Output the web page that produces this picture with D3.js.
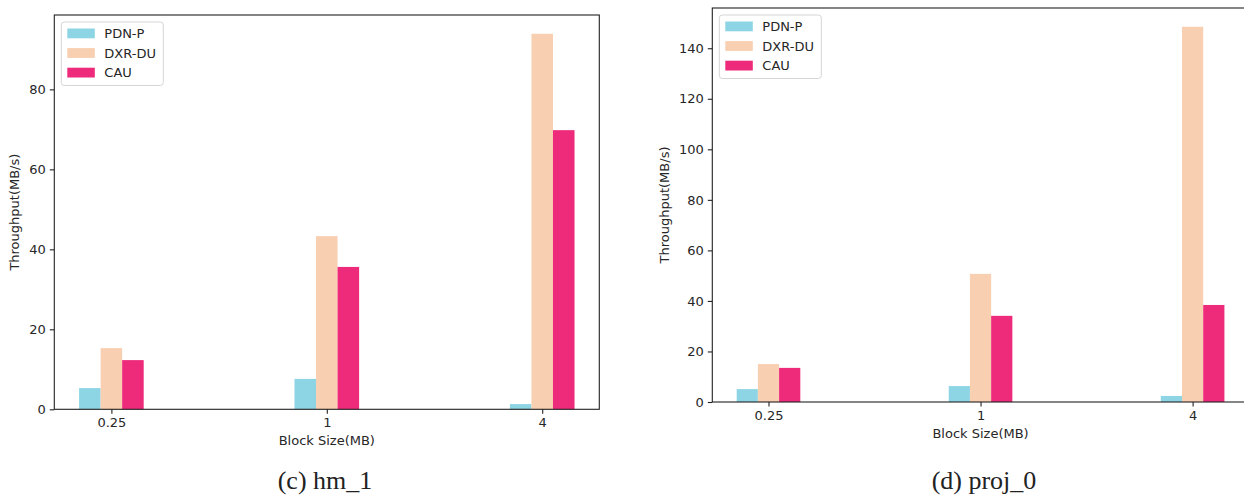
<!DOCTYPE html>
<html>
<head>
<meta charset="utf-8">
<script src="https://cdn.jsdelivr.net/npm/d3@7"></script>
<style>
  body { margin: 0; background: white; }
  svg text { font-family: "DejaVu Sans", sans-serif; fill: #262626; }
  .axis path, .axis line { stroke: #222; stroke-width: 1.1; }
  .caption { font-family: "Liberation Serif", "Times New Roman", serif; font-size: 26px; fill: #222; }
</style>
</head>
<body>
<svg id="chart" width="1244" height="496"></svg>
<script>
// block sizes on the x axis
var categories = ["0.25", "1", "4"];
var seriesNames = ["PDN-P", "DXR-DU", "CAU"];
var seriesColors = ["#8dd5e5", "#f8cfb1", "#ee2a7b"];

// (c) hm_1 throughput, MB/s
var hm1PDN = [5.3, 7.6, 1.3];
var hm1DXR = [15.3, 43.3, 93.9];
var hm1CAU = [12.3, 35.6, 69.8];
var hm1Ticks = [0, 20, 40, 60, 80];

// (d) proj_0 throughput, MB/s
var proj0PDN = [5.1, 6.3, 2.4];
var proj0DXR = [15.0, 50.7, 148.5];
var proj0CAU = [13.5, 34.1, 38.4];
var proj0Ticks = [0, 20, 40, 60, 80, 100, 120, 140];

var svg = d3.select("#chart");

function drawPanel(opts) {
  var series = opts.series;
  var width = opts.right - opts.left,
      height = opts.bottom - opts.top;

  var g = svg.append("g")
      .attr("transform", "translate(" + opts.left + "," + opts.top + ")");

  var barW = 0.1;
  // matplotlib style: data span -0.15..2.15 plus 5% margins
  var span = [-1.5 * barW, categories.length - 1 + 1.5 * barW];
  var pad = (span[1] - span[0]) * 0.05;
  var x = d3.scaleLinear()
      .domain([span[0] - pad, span[1] + pad])
      .range([0, width]);

  var ymax = d3.max(series, function(s) { return d3.max(s); }) * 1.05;
  var y = d3.scaleLinear()
      .domain([0, ymax])
      .range([height, 0]);

  series.forEach(function(vals, si) {
    g.selectAll(".bar" + si)
      .data(vals)
      .enter().append("rect")
        .attr("x", function(d, i) { return x(i + (si - 1) * barW - barW / 2); })
        .attr("width", function(d, i) { return x(barW) - x(0); })
        .attr("y", function(d) { return y(d); })
        .attr("height", function(d) { return height - y(d); })
        .style("fill", seriesColors[si]);
  });

  var xAxis = d3.axisBottom(x)
      .tickValues(d3.range(categories.length))
      .tickFormat(function(d) { return categories[d]; })
      .tickSize(4.5)
      .tickPadding(4);

  var yAxis = d3.axisLeft(y)
      .tickValues(opts.ticks)
      .tickSize(4.5)
      .tickPadding(4);

  g.append("g")
      .attr("class", "axis")
      .attr("transform", "translate(0," + height + ")")
      .call(xAxis)
      .call(function(a) { a.select(".domain").remove(); });

  g.append("g")
      .attr("class", "axis")
      .call(yAxis)
      .call(function(a) { a.select(".domain").remove(); });

  g.selectAll(".axis text").style("font-size", "13px").style("fill", "#262626");

  // spines
  g.append("rect")
      .attr("width", width)
      .attr("height", height)
      .style("fill", "none")
      .style("stroke", "#222")
      .style("stroke-width", 1.1);

  // axis labels
  g.append("text")
      .attr("x", width / 2)
      .attr("y", height + 36)
      .attr("text-anchor", "middle")
      .style("font-size", "13px")
      .text("Block Size(MB)");

  g.append("text")
      .attr("transform", "translate(" + opts.ylabelX + "," + (height / 2) + ") rotate(-90)")
      .attr("text-anchor", "middle")
      .style("font-size", "13px")
      .text("Throughput(MB/s)");

  // legend
  var lg = g.append("g").attr("transform", "translate(7,7)");
  lg.append("rect")
      .attr("width", 102)
      .attr("height", 63.5)
      .attr("rx", 3)
      .style("fill", "white")
      .style("fill-opacity", 0.8)
      .style("stroke", "#d5d5d5");
  seriesNames.forEach(function(name, i) {
    lg.append("rect")
        .attr("x", 6)
        .attr("y", 6.5 + i * 19.6)
        .attr("width", 27.5)
        .attr("height", 9.8)
        .style("fill", seriesColors[i]);
    lg.append("text")
        .attr("x", 43)
        .attr("y", 16 + i * 19.6)
        .style("font-size", "13px")
        .text(name);
  });

  svg.append("text")
      .attr("class", "caption")
      .attr("x", opts.captionX)
      .attr("y", 489)
      .attr("text-anchor", "middle")
      .text(opts.caption);
}

drawPanel({
  series: [hm1PDN, hm1DXR, hm1CAU],
  ticks: hm1Ticks,
  left: 54.3, right: 599.3, top: 15, bottom: 409.3,
  ylabelX: -35,
  caption: "(c) hm_1", captionX: 325
});

drawPanel({
  series: [proj0PDN, proj0DXR, proj0CAU],
  ticks: proj0Ticks,
  left: 712.3, right: 1248.8, top: 8, bottom: 402,
  ylabelX: -43,
  caption: "(d) proj_0", captionX: 984
});
</script>
</body>
</html>
